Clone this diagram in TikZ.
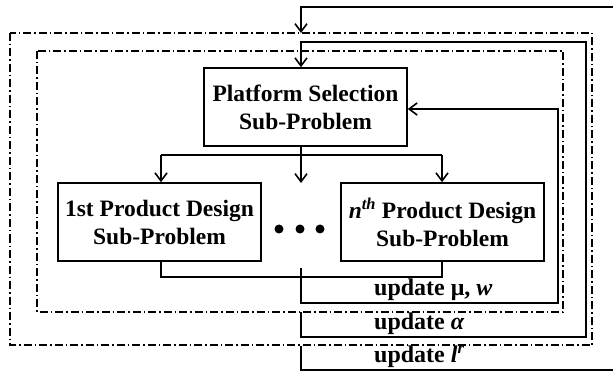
\documentclass[tikz,border=0pt]{standalone}
\usepackage{fontspec}
\setmainfont{Liberation Serif}
\usetikzlibrary{arrows.meta}
\begin{document}
\begin{tikzpicture}[x=1pt,y=-1pt,
  wire/.style={line width=1.5pt},
  flow/.style={wire,-{Straight Barb[length=8pt,width=12pt,line width=1.6pt]}},
  subprob/.style={draw,line width=1.6pt,minimum width=203pt,minimum height=78pt,
    inner sep=0pt,align=center,font=\fontsize{23.5}{28}\selectfont\bfseries},
  loopbox/.style={line width=1.2pt,dash pattern=on 8pt off 3pt on 1.5pt off 3pt},
  updlabel/.style={anchor=west,inner sep=0pt,font=\fontsize{24}{26}\selectfont\bfseries},
  dot/.style={circle,fill,inner sep=0pt,minimum size=9pt}]
\useasboundingbox (0,0) rectangle (613,374);
\fill[white] (0,0) rectangle (613,374);

% nested iteration loops
\draw[loopbox] (10,33) rectangle (592,345);
\draw[loopbox] (37,51) rectangle (563,312);

% sub-problems
\node[subprob] (plat) at (305.5,107) {Platform Selection\\Sub-Problem};
\node[subprob] (prod1) at (159.5,222) {1st Product Design\\Sub-Problem};
\node[subprob] (prodn) at (442.5,222) {\textit{n}\textsuperscript{\textit{th}} Product Design\\Sub-Problem};
\node[dot] (d1) at (279,229) {};
\node[dot] (d2) at (300,229) {};
\node[dot] (d3) at (320,229) {};

% distribution from the platform problem
\coordinate (split) at (301,155);
\coordinate (brL) at (161,155);
\coordinate (brR) at (442,155);
\coordinate (midtip) at (301,183);
\draw[wire] (plat.south -| split) -- (split);
\draw[wire] (brL) -- (brR);
\draw[flow] (brL) -- (brL |- prod1.north);
\draw[flow] (brR) -- (brR |- prodn.north);
\draw[flow] (split) -- (midtip);

% collection from the product problems
\coordinate (mgL) at (161,277);
\coordinate (mgR) at (442,277);
\draw[wire] (mgL |- prod1.south) -- (mgL) -- (mgR) -- (mgR |- prodn.south);

% inner loop: update mu, w
\coordinate (a0) at (301,268);
\coordinate (a1) at (301,303);
\coordinate (a2) at (558,303);
\coordinate (a3) at (558,109);
\draw[flow] (a0) -- (a1) -- (a2) -- (a3) -- (a3 -| plat.east);

% middle loop: update alpha
\coordinate (b0) at (301,312);
\coordinate (b1) at (301,337);
\coordinate (b2) at (586,337);
\coordinate (b3) at (586,42);
\coordinate (b4) at (301,42);
\draw[flow] (b0) -- (b1) -- (b2) -- (b3) -- (b4) -- (b4 |- plat.north);

% outer loop: update l^r
\coordinate (c0) at (301,346);
\coordinate (c1) at (301,370);
\coordinate (c2) at (613,370);
\coordinate (c3) at (613,7);
\coordinate (c4) at (301,7);
\coordinate (c5) at (301,33);
\draw[wire] (c0) -- (c1) -- (c2);
\draw[flow] (c3) -- (c4) -- (c5);

% loop labels
\node[updlabel] (lmu) at (374,290) {update μ, \textit{w}};
\node[updlabel] (lal) at (374,324) {update \textit{α}};
\node[updlabel] (llr) at (374,357) {update \textit{l}\textsuperscript{\textit{r}}};
\end{tikzpicture}
\end{document}
